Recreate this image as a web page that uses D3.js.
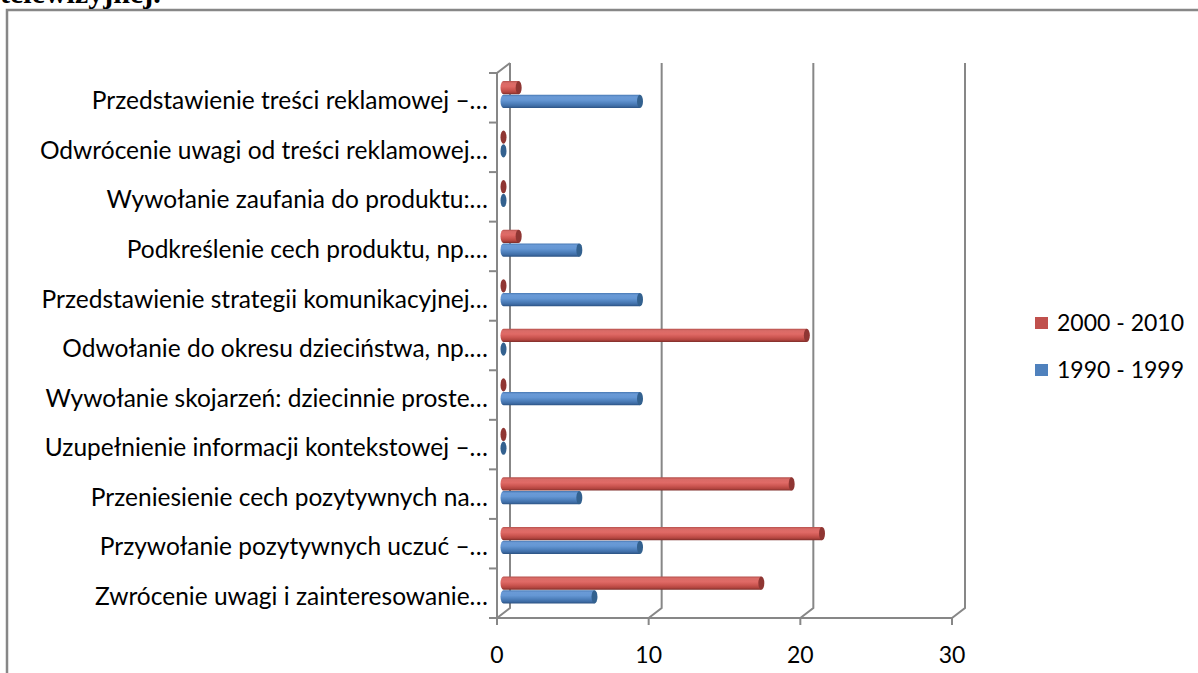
<!DOCTYPE html>
<html>
<head>
<meta charset="utf-8">
<script src="https://cdn.jsdelivr.net/npm/d3@7"></script>
<style>
  html, body { margin: 0; padding: 0; background: #fff; }
  svg { display: block; }
  text { font-family: Lato, "Open Sans", sans-serif; fill: #000; }
</style>
</head>
<body>
<svg id="chart" width="1198" height="673"></svg>
<script>
// Categories listed top to bottom as they appear on the axis
const categories = [
  "Przedstawienie treści reklamowej –…",
  "Odwrócenie uwagi od treści reklamowej…",
  "Wywołanie zaufania do produktu:…",
  "Podkreślenie cech produktu, np.…",
  "Przedstawienie strategii komunikacyjnej…",
  "Odwołanie do okresu dzieciństwa, np.…",
  "Wywołanie skojarzeń: dziecinnie proste…",
  "Uzupełnienie informacji kontekstowej –…",
  "Przeniesienie cech pozytywnych na…",
  "Przywołanie pozytywnych uczuć –…",
  "Zwrócenie uwagi i zainteresowanie…"
];
const values2000 = [1, 0, 0, 1, 0, 20, 0, 0, 19, 21, 17];
const values1990 = [9, 0, 0, 5, 9, 0, 9, 0, 5, 9, 6];
const seriesNames = ["2000 - 2010", "1990 - 1999"];
const xTicks = [0, 10, 20, 30];

const svg = d3.select("#chart");
const gray = "#878787";

// Frame around the chart area
svg.append("path")
  .attr("d", "M7,700 L7,10 L1210,10")
  .attr("fill", "none").attr("stroke", gray).attr("stroke-width", 2.5);

// Caption line above the frame (partly outside the page)
svg.append("text")
  .attr("x", 0).attr("y", 3)
  .style("font-family", "'Liberation Serif', serif")
  .style("font-weight", "bold").style("font-size", "30px")
  .text("telewizyjnej.");

// 3D plot geometry
const front0 = 497, floorY = 618, topY = 73;
const depthX = 13, depthY = -10;
const x = d3.scaleLinear().domain([0, 30]).range([0, 455]);
const y = d3.scaleBand().domain(categories).range([topY, floorY]);
const sub = d3.scaleBand().domain(seriesNames).range([8, 35.5]);
const barX0 = front0 + depthX / 2;

const grid = svg.append("g").attr("stroke", gray).attr("stroke-width", 2).attr("fill", "none");

// Back wall gridlines with the floor connection
xTicks.forEach(t => {
  const fx = front0 + x(t), bx = fx + depthX;
  grid.append("path")
    .attr("d", `M${bx},${topY + depthY} L${bx},${floorY + depthY} L${fx},${floorY}`);
});
// Floor front edge and x ticks
grid.append("line").attr("x1", front0).attr("x2", front0 + x(30)).attr("y1", floorY).attr("y2", floorY);
xTicks.forEach(t => {
  grid.append("line").attr("x1", front0 + x(t)).attr("x2", front0 + x(t))
    .attr("y1", floorY).attr("y2", floorY + 7);
});
// Category axis (front) with ticks
grid.append("path").attr("d", `M${front0},${floorY} L${front0},${topY} L${front0 + depthX},${topY + depthY}`);
const bounds = categories.map(c => y(c)).concat([floorY]);
bounds.forEach(b => {
  grid.append("line").attr("x1", front0 - 8).attr("x2", front0).attr("y1", b).attr("y2", b);
});

// Gradients for the cylinders
const defs = svg.append("defs");
function grad(id, stops) {
  const g = defs.append("linearGradient").attr("id", id)
    .attr("x1", 0).attr("y1", 0).attr("x2", 0).attr("y2", 1);
  stops.forEach(([o, c]) => g.append("stop").attr("offset", o).attr("stop-color", c));
}
grad("gRed", [[0, "#b5504c"], [0.15, "#d96b67"], [0.4, "#e06a66"], [0.65, "#cc5651"], [0.85, "#b2453f"], [1, "#7d2d2a"]]);
grad("gBlue", [[0, "#4778b3"], [0.15, "#6a9ad6"], [0.4, "#6597d4"], [0.65, "#4f81bd"], [0.85, "#3f6da6"], [1, "#2b5283"]]);

const seriesStyle = {
  "2000 - 2010": { fill: "url(#gRed)", cap: "#8f3633", key: "#c0504d", vals: values2000 },
  "1990 - 1999": { fill: "url(#gBlue)", cap: "#33618f", key: "#4f81bd", vals: values1990 }
};

const rx = 3;
seriesNames.forEach(s => {
  const st = seriesStyle[s];
  const g = svg.append("g");
  categories.forEach((c, i) => {
    const v = st.vals[i];
    const y0 = y(c) + sub(s), h = sub.bandwidth() - 0.5;
    const ry = h / 2;
    const xs = barX0, xe = barX0 + x(v);
    if (v > 0) {
      g.append("path")
        .attr("d", `M${xs},${y0} L${xe},${y0} L${xe},${y0 + h} L${xs},${y0 + h} A${rx},${ry} 0 0 1 ${xs},${y0} Z`)
        .attr("fill", st.fill);
    }
    g.append("ellipse")
      .attr("cx", xe).attr("cy", y0 + ry).attr("rx", rx).attr("ry", ry)
      .attr("fill", st.cap);
  });
});

// Category labels
svg.append("g").selectAll("text").data(categories).join("text")
  .attr("x", 488)
  .attr("y", d => y(d) + y.bandwidth() / 2 + 3)
  .attr("dy", "0.35em")
  .attr("text-anchor", "end")
  .style("font-size", "24.5px")
  .text(d => d);

// X tick labels
svg.append("g").selectAll("text").data(xTicks).join("text")
  .attr("x", d => front0 + x(d))
  .attr("y", 663)
  .attr("text-anchor", "middle")
  .style("font-size", "23px")
  .text(d => d);

// Legend
const legend = svg.append("g");
seriesNames.forEach((s, i) => {
  const ly = 317 + i * 47;
  legend.append("rect").attr("x", 1035).attr("y", ly).attr("width", 13).attr("height", 12)
    .attr("fill", seriesStyle[s].key);
  legend.append("text").attr("x", 1057).attr("y", ly + 6).attr("dy", "0.35em")
    .style("font-size", "23px").text(s);
});
</script>
</body>
</html>
